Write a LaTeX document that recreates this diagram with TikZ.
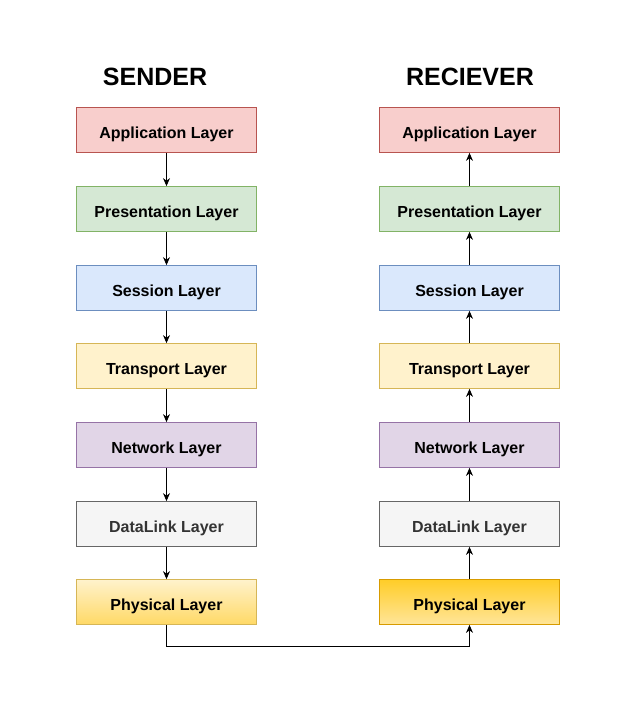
\documentclass[tikz,border=0pt]{standalone}
\usepackage{fontspec}
\setmainfont{Liberation Sans}
\usetikzlibrary{arrows.meta}
\definecolor{redF}{HTML}{F8CECC}\definecolor{redS}{HTML}{B85450}
\definecolor{grnF}{HTML}{D5E8D4}\definecolor{grnS}{HTML}{82B366}
\definecolor{bluF}{HTML}{DAE8FC}\definecolor{bluS}{HTML}{6C8EBF}
\definecolor{ylwF}{HTML}{FFF2CC}\definecolor{ylwS}{HTML}{D6B656}
\definecolor{prpF}{HTML}{E1D5E7}\definecolor{prpS}{HTML}{9673A6}
\definecolor{gryF}{HTML}{F5F5F5}\definecolor{gryS}{HTML}{666666}\definecolor{gryT}{HTML}{333333}
\definecolor{phyA}{HTML}{FFD966}
\definecolor{phyB}{HTML}{FFCD28}\definecolor{phyC}{HTML}{FFE599}\definecolor{phyS}{HTML}{D79B00}
\tikzset{
  layer/.style={rectangle, minimum width=180pt, minimum height=45pt, inner sep=0pt,
    text height=17pt, text depth=0pt,
    font=\fontsize{16pt}{18pt}\selectfont\bfseries, line width=0.8pt},
  title/.style={font=\fontsize{25pt}{29pt}\selectfont\bfseries},
  conn/.style={line width=0.9pt, -{Stealth[length=8pt,width=7pt]}},
}
\begin{document}
\begin{tikzpicture}[x=1pt,y=-1pt]
\useasboundingbox (0,0) rectangle (622,726);
\node[title] (ts) at (155,77) {SENDER};
\node[title] (tr) at (470,77) {RECIEVER};
% sender
\node[layer, fill=redF, draw=redS] (s1) at (166.5,130) {Application Layer};
\node[layer, fill=grnF, draw=grnS] (s2) at (166.5,209) {Presentation Layer};
\node[layer, fill=bluF, draw=bluS] (s3) at (166.5,288) {Session Layer};
\node[layer, fill=ylwF, draw=ylwS] (s4) at (166.5,366) {Transport Layer};
\node[layer, fill=prpF, draw=prpS] (s5) at (166.5,445) {Network Layer};
\node[layer, fill=gryF, draw=gryS, text=gryT] (s6) at (166.5,524) {DataLink Layer};
\node[layer, top color=ylwF, bottom color=phyA, draw=ylwS] (s7) at (166.5,602) {Physical Layer};
% receiver
\node[layer, fill=redF, draw=redS] (r1) at (469.5,130) {Application Layer};
\node[layer, fill=grnF, draw=grnS] (r2) at (469.5,209) {Presentation Layer};
\node[layer, fill=bluF, draw=bluS] (r3) at (469.5,288) {Session Layer};
\node[layer, fill=ylwF, draw=ylwS] (r4) at (469.5,366) {Transport Layer};
\node[layer, fill=prpF, draw=prpS] (r5) at (469.5,445) {Network Layer};
\node[layer, fill=gryF, draw=gryS, text=gryT] (r6) at (469.5,524) {DataLink Layer};
\node[layer, top color=phyB, bottom color=phyC, draw=phyS] (r7) at (469.5,602) {Physical Layer};
\foreach \a/\b in {1/2,2/3,3/4,4/5,5/6,6/7}{
  \draw[conn] (s\a) -- (s\b);
  \draw[conn] (r\b) -- (r\a);
}
\coordinate (c1) at (166.5,646);
\coordinate (c2) at (469.5,646);
\draw[conn] (s7.south) -- (c1) -- (c2) -- (r7.south);
\end{tikzpicture}
\end{document}
